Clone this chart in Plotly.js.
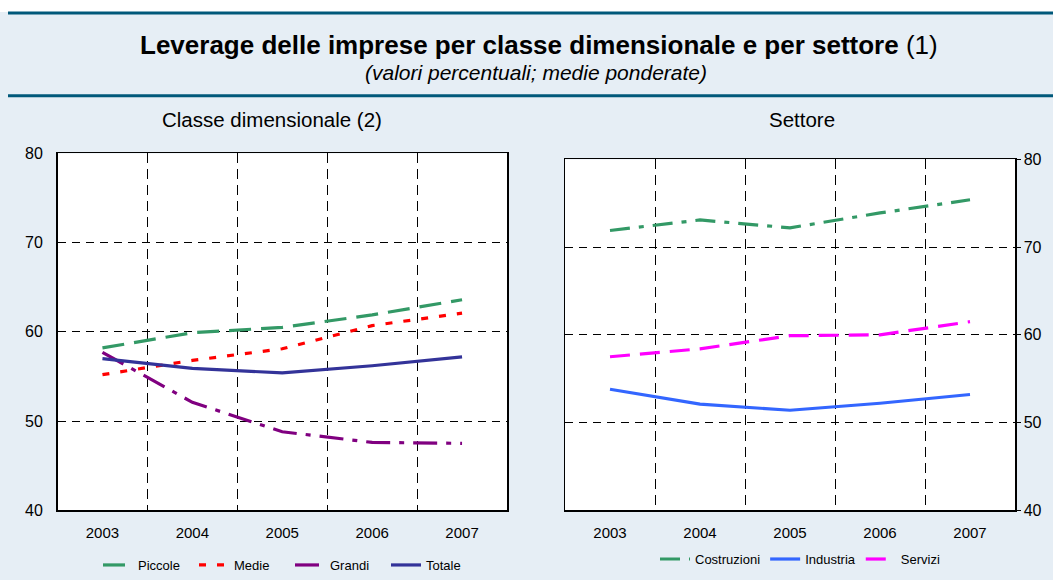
<!DOCTYPE html>
<html>
<head>
<meta charset="utf-8">
<script src="https://cdn.plot.ly/plotly-3.0.1.min.js"></script>
<style>
  html, body { margin: 0; padding: 0; background: #e6eef5; }
  #chart { width: 1053px; height: 580px; }
</style>
</head>
<body>
<div id="chart"></div>
<script>
const years = [2003, 2004, 2005, 2006, 2007];

// Classe dimensionale
const piccole = [58.2, 59.9, 60.5, 61.9, 63.6];
const medie = [55.2, 56.8, 58.1, 60.7, 62.1];
const grandi = [57.7, 52.1, 48.8, 47.6, 47.5];
const totale = [57.0, 55.9, 55.4, 56.2, 57.2];

// Settore
const costruzioni = [71.9, 73.1, 72.2, 73.9, 75.4];
const industria = [53.8, 52.1, 51.4, 52.2, 53.2];
const servizi = [57.5, 58.4, 59.9, 60.0, 61.5];

const W = 1053, H = 580;
const px = v => v / W;
const py = v => (H - v) / H;

function line(name, y, color, dash, xa, ya, legend) {
    return {
        x: years, y: y, name: name, type: 'scatter', mode: 'lines',
        xaxis: xa, yaxis: ya, legend: legend,
        line: {color: color, width: 3.2, dash: dash},
    };
}

const data = [
    line('Piccole', piccole, '#339966', '22px,10px', 'x', 'y', 'legend'),
    line('Medie', medie, '#ff0000', '7px,11px', 'x', 'y', 'legend'),
    line('Grandi', grandi, '#800080', '24px,9px,5px,9px', 'x', 'y', 'legend'),
    line('Totale', totale, '#333399', 'solid', 'x', 'y', 'legend'),
    line('Costruzioni', costruzioni, '#339966', '20px,9px,5px,9px', 'x2', 'y2', 'legend2'),
    line('Industria', industria, '#3366ff', 'solid', 'x2', 'y2', 'legend2'),
    line('Servizi', servizi, '#ff00ff', '20px,10px', 'x2', 'y2', 'legend2'),
];

const xBase = {
    type: 'linear', range: [2002.5, 2007.5],
    tickvals: years, ticktext: years.map(String),
    showgrid: false, zeroline: false,
    showline: true, mirror: true, linecolor: '#000', linewidth: 1.5,
    ticks: 'outside', ticklen: 8, tickcolor: 'rgba(0,0,0,0)',
    tickfont: {size: 15, color: '#000'},
    minor: {tick0: 2003.5, dtick: 1, showgrid: true, gridcolor: '#000', gridwidth: 1, griddash: '10px,6px'},
    fixedrange: true,
};
const yBase = {
    range: [40, 80], tickvals: [40, 50, 60, 70, 80],
    showgrid: true, gridcolor: '#000', gridwidth: 1, griddash: '8px,6px',
    zeroline: false,
    showline: true, mirror: true, linecolor: '#000', linewidth: 1.5,
    tickfont: {size: 16, color: '#000'},
    fixedrange: true,
};

const layout = {
    width: W, height: H,
    margin: {l: 0, r: 0, t: 0, b: 0},
    paper_bgcolor: '#e6eef5',
    plot_bgcolor: '#ffffff',
    font: {family: 'Liberation Sans, Arial, sans-serif', color: '#000'},
    showlegend: true,
    xaxis: Object.assign({}, xBase, {domain: [px(57.5), px(507)], anchor: 'y'}),
    yaxis: Object.assign({}, yBase, {domain: [py(512), py(154)], anchor: 'x',
        ticks: 'outside', ticklen: 10, tickcolor: 'rgba(0,0,0,0)'}),
    xaxis2: Object.assign({}, xBase, {domain: [px(565), px(1015)], anchor: 'y2'}),
    yaxis2: Object.assign({}, yBase, {domain: [py(512), py(160)], anchor: 'x2', side: 'right',
        ticks: 'outside', ticklen: 4, tickcolor: '#000'}),
    legend: {
        orientation: 'h', x: px(290), xanchor: 'center', y: py(567), yanchor: 'middle',
        bgcolor: 'rgba(0,0,0,0)', font: {size: 13}, itemwidth: 30,
        entrywidth: 51, entrywidthmode: 'pixels',
    },
    legend2: {
        orientation: 'h', x: px(800), xanchor: 'center', y: py(561), yanchor: 'middle',
        bgcolor: 'rgba(0,0,0,0)', font: {size: 13}, itemwidth: 30,
    },
    shapes: [
        {type: 'rect', xref: 'paper', yref: 'paper', x0: 0, x1: 1, y0: py(12), y1: 1,
            fillcolor: '#ffffff', line: {width: 0}, layer: 'below'},
        {type: 'line', xref: 'paper', yref: 'paper', x0: px(8), x1: 1, y0: py(13), y1: py(13),
            line: {color: '#00587a', width: 3}},
        {type: 'line', xref: 'paper', yref: 'paper', x0: px(8), x1: 1, y0: py(96), y1: py(96),
            line: {color: '#00587a', width: 3}},
    ],
    annotations: [
        {xref: 'paper', yref: 'paper', x: px(539), y: py(45), xanchor: 'center', yanchor: 'middle',
            showarrow: false, text: '<b>Leverage delle imprese per classe dimensionale e per settore</b> (1)',
            font: {size: 26, color: '#000'}},
        {xref: 'paper', yref: 'paper', x: px(536), y: py(73), xanchor: 'center', yanchor: 'middle',
            showarrow: false, text: '<i>(valori percentuali; medie ponderate)</i>',
            font: {size: 21, color: '#000'}},
        {xref: 'paper', yref: 'paper', x: px(272), y: py(120), xanchor: 'center', yanchor: 'middle',
            showarrow: false, text: 'Classe dimensionale (2)', font: {size: 20.5, color: '#000'}},
        {xref: 'paper', yref: 'paper', x: px(802), y: py(120), xanchor: 'center', yanchor: 'middle',
            showarrow: false, text: 'Settore', font: {size: 20.5, color: '#000'}},
    ],
};

Plotly.newPlot('chart', data, layout, {displayModeBar: false, staticPlot: true});
</script>
</body>
</html>
